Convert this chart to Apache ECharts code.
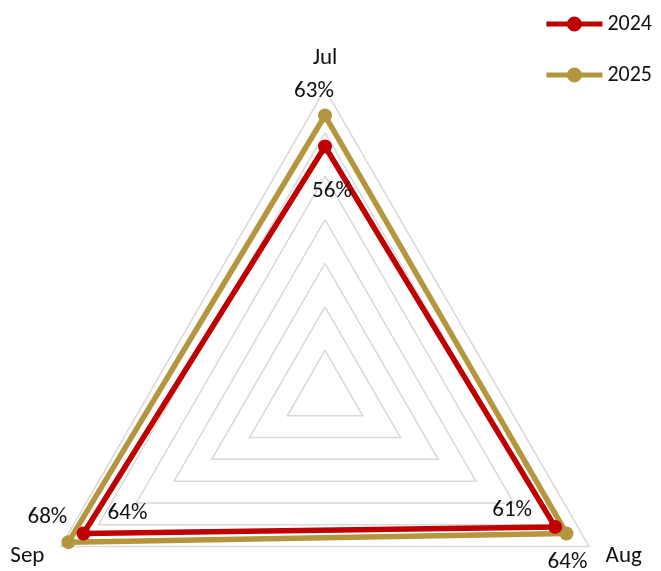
<!DOCTYPE html>
<html>
<head>
<meta charset="utf-8">
<script src="https://cdn.jsdelivr.net/npm/echarts@6/dist/echarts.min.js"></script>
<style>
html,body{margin:0;padding:0;background:#fff;}
#chart{width:661px;height:571px;}
</style>
</head>
<body>
<div id="chart"></div>
<script>
// ---- data ----
const categories = ['Jul', 'Aug', 'Sep'];
const seriesNames = ['2024', '2025'];
const values2024 = [56, 61, 64];
const values2025 = [63, 64, 68];
const axisMax = [69, 70, 70];

// ---- style ----
const FONT = 'Carlito, Lato, sans-serif';
const colors = { '2024': '#C00000', '2025': '#B4963E' };
// ECharts lays indicators out counter-clockwise from the top; the
// reference runs clockwise (Jul top, Aug right, Sep left).
const displayOrder = [0, 2, 1];
// label shift (dx, dy) from each point, per category (Jul, Aug, Sep)
const labelShift = {
  '2024': [[7, 45], [-43, -17], [44, -20]],
  '2025': [[-11, -24], [1, 29], [-21, -25]]
};
function richFor(name) {
  const r = {};
  displayOrder.forEach(function (ci, i) {
    const dx = labelShift[name][ci][0], dy = labelShift[name][ci][1];
    r['d' + i] = {
      fontFamily: FONT, fontSize: 23, color: '#111',
      padding: [Math.max(2 * dy, 0), Math.max(-2 * dx, 0), Math.max(-2 * dy, 0), Math.max(2 * dx, 0)]
    };
  });
  return r;
}
function labelFmt(p) {
  const vals = p.data.value;
  const i = vals.indexOf(p.value);
  return '{d' + i + '|' + p.value + '%}';
}
const legendIcon = 'path://M0,5h56v5h-56z M20.5,7.5a7.5,7.5 0 1,1 15,0a7.5,7.5 0 1,1 -15,0z';

const chart = echarts.init(document.getElementById('chart'), null, { renderer: 'canvas' });
const allValues = { '2024': values2024, '2025': values2025 };

chart.setOption({
  animation: false,
  backgroundColor: '#fff',
  legend: {
    orient: 'vertical',
    right: 4,
    top: 8,
    itemWidth: 56,
    itemHeight: 15,
    itemGap: 29,
    icon: legendIcon,
    textStyle: { fontFamily: FONT, fontSize: 22, color: '#111' },
    data: seriesNames.map(function (n) {
      return { name: n, itemStyle: { color: colors[n], borderWidth: 0 } };
    })
  },
  radar: {
    center: [325, 394],
    radius: 305,
    shape: 'polygon',
    splitNumber: 7,
    axisNameGap: 19,
    nameGap: 19,
    axisName: { color: '#111', fontFamily: FONT, fontSize: 23 },
    splitLine: { lineStyle: { color: '#d9d9d9', width: 1.5 } },
    splitArea: { show: false },
    axisLine: { show: false },
    axisTick: { show: false },
    axisLabel: { show: false },
    indicator: displayOrder.map(function (ci) { return { name: categories[ci], min: 0, max: axisMax[ci] }; })
  },
  series: seriesNames.map(function (n) {
    return {
      type: 'radar',
      name: n,
      symbol: 'circle',
      symbolSize: 14,
      z: n === '2024' ? 3 : 2,
      lineStyle: { color: colors[n], width: 5.5 },
      itemStyle: { color: colors[n] },
      label: {
        show: true,
        position: 'inside',
        distance: 0,
        formatter: labelFmt,
        rich: richFor(n)
      },
      data: [{ name: n, value: displayOrder.map(function (ci) { return allValues[n][ci]; }) }]
    };
  })
});
</script>
</body>
</html>
